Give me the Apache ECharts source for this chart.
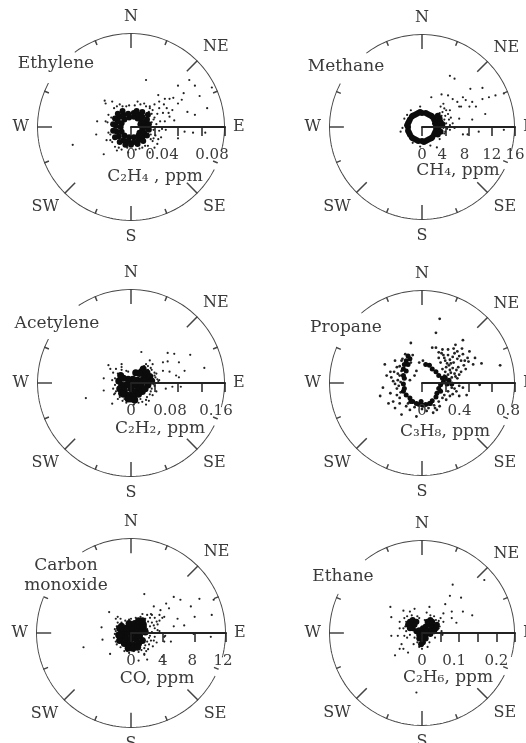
<!DOCTYPE html>
<html><head><meta charset="utf-8">
<style>html,body{margin:0;padding:0;background:#fff}#c{width:526px;height:743px}</style>
<script src="https://cdn.jsdelivr.net/npm/echarts@6/dist/echarts.min.js"></script>
</head><body><div id="c"></div>
<script>
// Points as [east, north] components, in percent of each rose's full scale.
const ethyleneCore=[[10,3],[12,-2],[11,6],[9,-6],[7,9],[3,11],[-2,10],[-7,8],[-10,4],[-11,0],[-10,-5],[-7,-9],[-2,-11],[3,-11],[8,-9],[14,5],[15,0],[14,-6],[12,-11],[8,-14],[3,-16],[-3,-15],[-8,-14],[-13,-10],[-15,-5],[-16,1],[-14,6],[-12,11],[-8,13],[-3,14],[3,15],[8,13],[12,11],[17,8],[19,3],[19,-3],[17,-9],[13,-15],[7,-18],[0,-19],[-6,-19],[-12,-16],[-17,-11],[-19,-4],[-19,3],[-17,9],[-14,14],[-9,17],[6,17],[12,16],[18,13]];
const ethyleneOuter=[[22,5],[24,-3],[25,10],[27,3],[22,14],[20,20],[16,22],[28,14],[30,20],[25,24],[10,24],[4,23],[-5,22],[-12,24],[-18,20],[-24,13],[-25,5],[-24,-6],[-22,-14],[-17,-21],[-10,-24],[-3,-27],[5,-24],[12,-22],[18,-20],[23,-15],[26,-9],[30,-4],[32,-11],[28,-18],[20,-27],[36,6],[34,15],[38,20],[-20,27],[-28,28],[16,50],[62,50],[68,44],[86,42],[50,44],[56,36],[41,30],[36,30],[73,33],[29,34],[50,25],[81,20],[60,16],[68,13],[41,11],[46,7],[79,-6],[66,-6],[57,-5],[50,-12],[37,-3],[-27,25],[-36,6],[-27,6],[-37,-8],[-26,-14],[-29,-29],[-15,-25],[-62,-19],[45,31],[54,29],[21,-8],[24,8],[19,16],[23,18],[-21,10],[-22,-8],[-20,-16],[-13,-22],[-4,-22],[9,-23],[15,-20],[21,-13],[24,-12],[20,22],[14,25],[7,27],[-2,23],[-9,22],[-15,22],[31,6],[33,-2],[29,-13],[25,-22],[40,15],[44,18],[35,24],[30,27]];
const methaneCore=[[15,0],[14,4],[13,8],[11,11],[8,13],[4,15],[0,15],[-4,15],[-8,13],[-11,11],[-13,8],[-15,4],[-15,0],[-15,-4],[-13,-8],[-11,-11],[-8,-13],[-4,-15],[0,-15],[4,-15],[8,-13],[11,-11],[13,-8],[15,-4],[16,-2],[15,6],[6,14],[-6,14],[-14,6],[-14,-6],[-6,-14],[6,-14],[14,-6],[-2,16],[2,-16],[16,3],[-16,2],[10,12],[-10,12],[-10,-12],[10,-12],[18,2],[20,5],[19,9],[17,12],[22,3],[18,-3],[20,-5],[17,-8]];
const methaneOuter=[[24,8],[21,12],[23,-1],[26,4],[25,12],[22,16],[19,15],[26,18],[28,14],[24,20],[20,22],[29,8],[27,-2],[30,2],[24,-7],[-21,-1],[-23,-5],[-19,9],[-16,13],[-12,18],[-2,22],[-14,-10],[-10,-17],[-2,-21],[9,-20],[16,-22],[19,-13],[30,55],[35,52],[10,32],[21,35],[28,34],[33,30],[38,27],[42,22],[47,29],[52,41],[65,42],[54,27],[65,30],[72,32],[79,34],[88,36],[68,14],[54,8],[40,9],[30,18],[23,25],[44,32],[58,22],[51,22],[40,22],[35,-1],[44,-8],[49,-8],[61,-5],[88,-3],[25,-5],[30,-3],[31,10],[33,4]];
const acetyleneCore=[[0,0],[5,-2],[-5,-2],[-10,-2],[-13,2],[-12,-6],[-7,-8],[0,-6],[5,-9],[9,-5],[11,-1],[7,3],[2,4],[-3,4],[-8,5],[-11,8],[-10,-11],[12,3],[16,4],[14,9],[11,12],[17,11],[13,15],[20,7],[22,2],[18,-2],[9,10],[5,11],[0,-13],[3,-15],[-4,-13],[8,-12],[-8,-12],[0,-17],[4,-18],[-3,-17],[12,-9],[15,-6]];
const acetyleneOuter=[[-19,11],[-22,15],[-16,15],[-10,14],[-20,3],[-19,-6],[-18,-12],[-14,-17],[-9,-19],[8,-21],[12,-20],[17,-15],[21,-9],[25,-3],[27,-9],[26,6],[25,11],[22,14],[18,18],[23,20],[16,20],[-3,12],[29,2],[3,-23],[-5,-21],[19,-19],[11,33],[39,32],[46,31],[63,30],[78,16],[34,22],[39,23],[51,22],[57,13],[48,8],[51,6],[41,12],[-29,5],[-29,-8],[-48,-16],[-20,-22],[-17,-11],[27,10],[34,13],[30,3],[44,-4],[53,-4],[37,-6],[23,-13],[16,-23],[-24,19],[-10,20],[20,24],[24,-1],[22,-6],[20,-12],[16,-18],[10,-17],[4,-21],[-2,-19],[-7,-17],[-12,-15],[-16,-9],[-17,-2],[-17,5],[-14,10],[-10,17],[-5,13],[25,8],[21,16],[28,4],[14,18],[18,14]];
const propaneCore=[[-15,29],[-13,26],[-17,24],[-19,20],[-15,20],[-20,15],[-17,13],[-20,8],[-19,5],[-20,-1],[-19,-6],[-20,-9],[-17,-13],[-13,-16],[-10,-20],[-6,-22],[-3,-23],[1,-24],[4,-23],[8,-22],[11,-19],[15,-15],[16,-11],[18,-6],[20,-2],[23,1],[27,-1],[22,5],[18,8],[15,12],[11,15],[8,19],[4,20],[29,3],[25,6],[32,-1],[-12,-20],[-1,-20],[9,-22],[20,-9]];
const propaneOuter=[[25,12],[28,9],[32,6],[35,10],[30,14],[26,17],[22,15],[29,19],[33,16],[37,14],[40,9],[38,5],[42,12],[34,22],[30,25],[25,24],[20,22],[18,27],[23,30],[28,30],[33,28],[38,26],[42,24],[45,19],[47,15],[49,27],[44,31],[38,34],[34,37],[28,36],[22,36],[15,38],[18,33],[43,37],[50,23],[55,20],[40,-3],[35,-6],[44,-5],[28,-9],[24,-13],[33,-12],[40,-14],[26,-18],[18,-20],[14,-27],[5,-30],[12,-32],[19,69],[15,54],[-12,43],[44,46],[64,21],[84,19],[51,34],[57,27],[62,-2],[48,-13],[36,41],[11,38],[-45,-14],[-42,-5],[-40,20],[-38,8],[-29,24],[-27,17],[-26,10],[-34,12],[-29,-1],[-27,-6],[-36,-22],[-31,-20],[-24,-16],[-22,-34],[-29,-27],[-17,-25],[-26,3],[-33,6],[-22,24],[-24,-22],[-13,-29],[-6,-36],[-34,-11],[-6,13],[-3,22],[-8,8],[-13,3],[1,24],[24,8],[26,3],[31,11],[36,7],[39,17],[31,21],[27,21],[24,27],[21,32],[35,32],[40,29],[46,24],[32,-5],[37,-9],[30,-14],[22,-16],[-24,8],[-23,1],[-25,-3],[-23,-10],[-22,13],[-24,18],[-21,26],[-12,22],[-10,30],[-18,31],[-15,-22],[-8,-26],[0,-28],[7,-27],[13,-24],[-27,-13],[-31,2],[-30,12],[16,-29],[19,-25]];
const carbonCore=[[0,0],[-5,0],[5,0],[-10,1],[-10,-4],[-5,-6],[0,-6],[5,-6],[9,-3],[10,3],[5,5],[0,5],[-5,5],[-10,7],[-12,-8],[-7,-11],[-2,-12],[3,-13],[8,-11],[12,-8],[-12,5],[-2,10],[4,10],[9,8],[13,6],[15,1],[-3,-16],[2,-16],[7,-15],[13,9],[8,13],[12,13],[-13,-2]];
const carbonOuter=[[17,4],[20,7],[18,12],[15,15],[22,11],[25,5],[22,1],[20,-3],[17,-9],[15,-13],[11,-18],[21,-8],[25,-4],[27,-10],[23,-14],[18,-17],[14,-22],[-14,11],[-11,15],[-16,15],[-6,13],[0,15],[5,16],[-16,2],[-18,-5],[-15,-12],[-7,-19],[-2,-21],[3,-19],[28,9],[30,13],[25,16],[33,16],[22,19],[30,2],[36,-3],[14,41],[45,38],[52,35],[72,36],[87,35],[63,28],[85,19],[67,17],[24,28],[31,24],[40,26],[37,31],[49,15],[56,8],[45,7],[-31,6],[-17,4],[-30,-7],[-50,-15],[-22,-22],[8,-29],[17,-28],[14,-23],[35,-4],[35,-9],[42,-9],[66,-1],[84,-4],[-23,22],[-14,17],[30,19],[35,17],[21,20],[33,-25],[35,-30],[19,-5],[14,-16],[8,-20],[-4,-19],[-11,-15],[-16,-9],[-17,-1],[-15,7],[-10,11],[-2,14],[10,17],[20,16],[27,12],[24,-8],[19,-12],[16,-19],[24,8],[28,3],[17,19],[12,20]];
const ethaneCore=[[-13,12],[-10,14],[-6,12],[-12,9],[-8,9],[-15,9],[-10,5],[-13,5],[1,5],[4,7],[8,9],[11,7],[15,5],[8,3],[13,2],[4,2],[-3,3],[1,0],[-3,-2],[4,-2],[1,-5],[-3,-6],[4,-6],[1,-10],[-1,-12],[9,14],[6,12],[11,12],[16,9],[9,-1],[-6,2]];
const ethaneOuter=[[-20,5],[-19,16],[-20,24],[-8,26],[-13,23],[-3,16],[8,28],[9,19],[20,16],[23,12],[23,21],[18,5],[22,-2],[-5,-10],[8,-10],[-13,-2],[-19,-3],[-17,2],[-34,28],[-33,17],[-24,12],[-33,-3],[-26,-3],[-22,-12],[-24,-17],[-29,-24],[-15,-21],[-20,-17],[33,52],[30,40],[42,38],[67,57],[25,31],[32,23],[44,23],[54,19],[37,11],[-6,-64],[32,16],[-17,12],[-16,18],[-11,19],[-5,18],[3,14],[15,14],[19,7],[21,2],[14,-5],[-8,-5],[-16,-5],[-9,-12],[6,-15],[0,-17],[-3,-15],[13,18],[18,13],[-18,7],[-24,5],[5,22]];

const compassLabels=['E','SE','S','SW','W','','N','NE'];
const ethyleneTicks=[0,0.04,0.08], methaneTicks=[0,4,8,12,16], acetyleneTicks=[0,0.08,0.16];
const propaneTicks=[0,0.4,0.8], carbonTicks=[0,4,8,12], ethaneTicks=[0,0.1,0.2];

const FONT='"DejaVu Serif",serif', INK='#3a3a3a';
const panels=[
 {title:'Ethylene',tx:56,ty:64,unit:'C₂H₄ , ppm',ux:155,uy:177,c:[131,127],r:94,full:0.08,step:0.02,ticks:ethyleneTicks,shift:[0,16,13],gap:[298,323],core:ethyleneCore,outer:ethyleneOuter,coreSize:6,outerSize:2.2},
 {title:'Methane',tx:346,ty:67,unit:'CH₄, ppm',ux:458,uy:171,c:[422,127],r:93,full:16,step:4,ticks:methaneTicks,shift:[0,3,4,0,0],gap:[298,323],core:methaneCore,outer:methaneOuter,coreSize:6,outerSize:2.2},
 {title:'Acetylene',tx:57,ty:324,unit:'C₂H₂, ppm',ux:160,uy:429,c:[131,383],r:94,full:0.16,step:0.04,ticks:acetyleneTicks,shift:[0,8,9],gap:[298,326],core:acetyleneCore,outer:acetyleneOuter,coreSize:7,outerSize:2.2},
 {title:'Propane',tx:346,ty:328,unit:'C₃H₈, ppm',ux:445,uy:432,c:[422,383],r:93,full:0.8,step:0.2,ticks:propaneTicks,shift:[0,9,7],gap:[293,319],core:propaneCore,outer:propaneOuter,coreSize:5,outerSize:2.8},
 {title:'Carbon\nmonoxide',tx:66,ty:576,unit:'CO, ppm',ux:157,uy:679,c:[131,633],r:95,full:12,step:4,ticks:carbonTicks,shift:[0,0,2,3],gap:[292,329],core:carbonCore,outer:carbonOuter,coreSize:7,outerSize:2.2},
 {title:'Ethane',tx:343,ty:577,unit:'C₂H₆, ppm',ux:448,uy:678,c:[422,633],r:93,full:0.25,step:0.05,ticks:ethaneTicks,shift:[0,5,0],gap:[295,322],core:ethaneCore,outer:ethaneOuter,coreSize:6,outerSize:2.2}
];
const toAxis=c=>(c+270)%360;
const toPolar=(pts,full)=>pts.map(([e,n])=>[Math.hypot(e,n)/100*full,(Math.atan2(-n,e)*180/Math.PI+360)%360]);
const opt={animation:false,backgroundColor:'#fff',title:[],polar:[],angleAxis:[],radiusAxis:[],series:[]};
panels.forEach((p,i)=>{
 opt.title.push({text:p.title,left:p.tx,top:p.ty,textAlign:'center',textVerticalAlign:'middle',padding:0,textStyle:{fontFamily:FONT,fontSize:17,fontWeight:'normal',color:INK,lineHeight:20}});
 opt.title.push({text:p.unit,left:p.ux,top:p.uy,textAlign:'center',textVerticalAlign:'middle',padding:0,textStyle:{fontFamily:FONT,fontSize:17,fontWeight:'normal',color:INK}});
 opt.polar.push({center:p.c,radius:p.r});
 opt.angleAxis.push({polarIndex:i,type:'value',min:0,max:360,interval:45,startAngle:0,clockwise:true,axisLine:{show:false},axisTick:{show:false},splitLine:{show:false},
  axisLabel:{margin:8,fontFamily:FONT,fontSize:16,color:INK,formatter:v=>compassLabels[Math.round(v/45)%8]}});
 const rich={};p.shift.forEach((s,k)=>{rich['s'+k]={fontFamily:FONT,fontSize:15,color:INK,padding:[0,2*s,0,0]};});
 opt.radiusAxis.push({polarIndex:i,type:'value',min:0,max:p.full,interval:p.step,z:5,splitLine:{show:false},
  axisLine:{lineStyle:{color:'#222',width:2}},axisTick:{show:true,length:-9,lineStyle:{color:'#222',width:1.5}},
  axisLabel:{margin:-36,formatter:v=>{const k=p.ticks.findIndex(t=>Math.abs(t-v)<p.full*1e-4);return k<0?'':`{s${k}|${p.ticks[k]}}`;},rich}});
 // compass ring with gaps beside the title and the axis labels, and its ticks
 const ring=[];const gaps=[p.gap,[105,117]];
 for(let c=0;c<=360;c++){const inGap=gaps.some(g=>c>g[0]&&c<g[1]);ring.push(inGap?['-','-']:[p.full,toAxis(c)]);}
 const ticks=[];
 for(let c=0;c<360;c+=22.5){ if(c===315||c===90) continue; const major=c%45===0;
  ticks.push([p.full,toAxis(c)],[p.full*(major?0.84:0.945),toAxis(c)],['-','-']);}
 const frame=(d,w)=>({type:'line',coordinateSystem:'polar',polarIndex:i,data:d,showSymbol:false,symbol:'none',silent:true,clip:false,z:3,lineStyle:{color:'#444',width:w}});
 opt.series.push(frame(ring,2),frame(ticks,1.5));
 opt.series.push({type:'scatter',coordinateSystem:'polar',polarIndex:i,data:toPolar(p.outer,p.full),symbolSize:p.outerSize,silent:true,itemStyle:{color:'#222',opacity:1},z:2});
 opt.series.push({type:'scatter',coordinateSystem:'polar',polarIndex:i,data:toPolar(p.core,p.full),symbolSize:p.coreSize,silent:true,itemStyle:{color:'#0c0c0c',opacity:1},z:2});
});
echarts.init(document.getElementById('c'),null,{renderer:'canvas'}).setOption(opt);
</script></body></html>
